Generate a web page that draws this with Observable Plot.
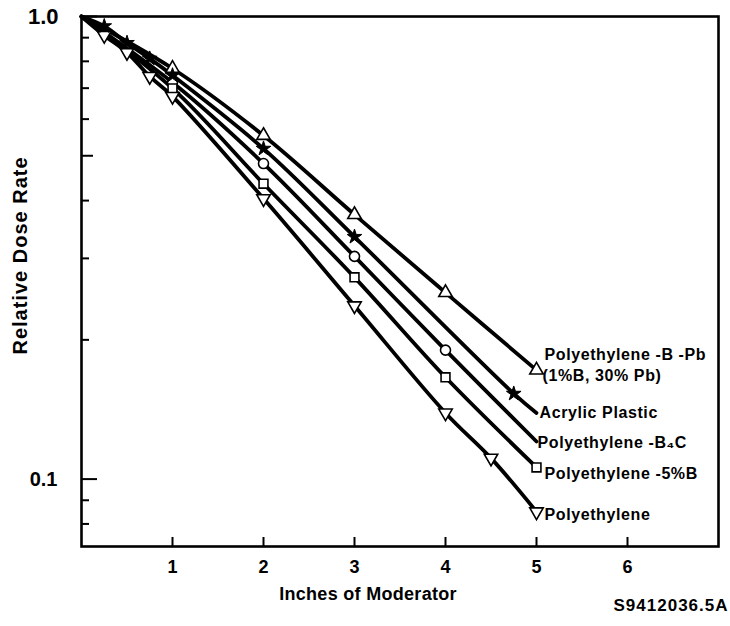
<!DOCTYPE html>
<html><head><meta charset="utf-8">
<script src="https://cdn.jsdelivr.net/npm/d3@7"></script>
<script src="https://cdn.jsdelivr.net/npm/@observablehq/plot@0.6"></script>
<style>
body{margin:0;background:#fff}
svg{display:block}
g[aria-description="curve-label"] text{letter-spacing:0.6px}
g[aria-description="fig-code"] text{letter-spacing:1px}
g[aria-description="x-title"] text{letter-spacing:0.3px}
g[aria-description="y-title"] text{letter-spacing:1px}
</style>
</head><body><div id="chart"></div>
<script>
// ---------- data ----------
const seriesNames = ["Polyethylene -B -Pb", "Acrylic Plastic", "Polyethylene -B\u2084C", "Polyethylene -5%B", "Polyethylene"];
const seriesLabels = [["Polyethylene -B -Pb", "(1%B, 30% Pb)"], ["Acrylic Plastic"], ["Polyethylene -B\u2084C"], ["Polyethylene -5%B"], ["Polyethylene"]];
const seriesSymbols = ["triangle", "star", "circle", "square", "triangle"];

const pbX      = [0, 1, 2, 3, 4, 5];
const pbY      = [1.0, 0.772, 0.553, 0.373, 0.253, 0.172];
const pbMark   = [0, 1, 1, 1, 1, 1];

const acrX     = [0, 0.25, 0.5, 0.75, 1, 2, 3, 4.75, 5];
const acrY     = [1.0, 0.953, 0.877, 0.811, 0.746, 0.518, 0.334, 0.153, 0.139];
const acrMark  = [0, 1, 1, 1, 1, 1, 1, 1, 0];

const b4cX     = [0, 1, 2, 3, 4, 5];
const b4cY     = [1.0, 0.720, 0.481, 0.303, 0.190, 0.1206];
const b4cMark  = [0, 1, 1, 1, 1, 0];

const b5X      = [0, 1, 2, 3, 4, 5];
const b5Y      = [1.0, 0.699, 0.435, 0.273, 0.166, 0.106];
const b5Mark   = [0, 1, 1, 1, 1, 1];

const peX      = [0, 0.25, 0.5, 0.75, 1, 2, 3, 4, 4.5, 5];
const peY      = [1.0, 0.910, 0.836, 0.742, 0.672, 0.404, 0.237, 0.139, 0.111, 0.085];
const peMark   = [0, 1, 1, 1, 1, 1, 1, 1, 1, 1];

const xTicks   = [1, 2, 3, 4, 5, 6];
const yMajor   = [1.0, 0.1];
const yMid     = [0.5];
const yMinor   = [0.9, 0.8, 0.7, 0.6, 0.4, 0.3, 0.2, 0.09, 0.08];
const xTitle   = "Inches of Moderator";
const yTitle   = "Relative Dose Rate";
const figCode  = "S9412036.5A";

// ---------- build table ----------
const seriesX = [pbX, acrX, b4cX, b5X, peX];
const seriesY = [pbY, acrY, b4cY, b5Y, peY];
const seriesM = [pbMark, acrMark, b4cMark, b5Mark, peMark];
const rows = [];
seriesNames.forEach((name, i) => {
  seriesX[i].forEach((x, j) => rows.push({series: name, idx: i, x, y: seriesY[i][j], mark: seriesM[i][j]}));
});
const marked = rows.filter(d => d.mark === 1);
const ends = seriesNames.map((name, i) => rows.filter(d => d.idx === i).slice(-1)[0]);

const FONT = "'Liberation Sans', Arial, Helvetica, sans-serif";
const W = 730, H = 626, ML = 81, MR = 12, MT = 16, MB = 80;
const frameW = W - ML - MR, frameH = H - MT - MB;

// label offsets (screen px) per series
const labelOffsets = [
  [{dx: 8, dy: -15}, {dx: 6, dy: 6}],
  [{dx: 3, dy: 0}],
  [{dx: 1, dy: 1}],
  [{dx: 8, dy: 6}],
  [{dx: 8, dy: 3}]
];

const labelMarks = [];
ends.forEach((e, i) => {
  seriesLabels[i].forEach((t, k) => {
    labelMarks.push(Plot.text([e], {
      x: "x", y: "y", text: () => t, textAnchor: "start",
      dx: labelOffsets[i][k].dx, dy: labelOffsets[i][k].dy,
      fontSize: 16, fontWeight: "bold", fontFamily: FONT, fill: "black",
      ariaDescription: "curve-label"
    }));
  });
});

const chart = Plot.plot({
  width: W, height: H,
  marginLeft: ML, marginRight: MR, marginTop: MT, marginBottom: MB,
  style: {fontFamily: FONT, background: "white", color: "black", overflow: "visible"},
  x: {domain: [0, 7], axis: null},
  y: {type: "log", domain: [0.0715, 1], axis: null},
  marks: [
    Plot.line(rows, {x: "x", y: "y", z: "series", stroke: "black", strokeWidth: 3.8, curve: "catmull-rom"}),
    Plot.dot(marked.filter(d => seriesSymbols[d.idx] !== "star"), {
      x: "x", y: "y", r: 5,
      symbol: d => seriesSymbols[d.idx],
      rotate: d => d.series === "Polyethylene" ? 180 : 0,
      fill: "white", stroke: "black", strokeWidth: 1.6
    }),
    Plot.dot(marked.filter(d => seriesSymbols[d.idx] === "star"), {
      x: "x", y: "y", r: 4.6, symbol: "star", fill: "black", stroke: "black", strokeWidth: 1
    }),
    ...labelMarks,
    // axes
    Plot.frame({stroke: "black", strokeWidth: 2.6}),
    Plot.tickX(xTicks, {x: d => d, insetTop: frameH - 9, stroke: "black", strokeWidth: 2}),
    Plot.tickY(yMajor, {y: d => d, insetRight: frameW - 16, stroke: "black", strokeWidth: 2}),
    Plot.tickY(yMid, {y: d => d, insetRight: frameW - 12, stroke: "black", strokeWidth: 2}),
    Plot.tickY(yMinor, {y: d => d, insetRight: frameW - 8, stroke: "black", strokeWidth: 2}),
    Plot.axisX(xTicks, {tickSize: 0, tickPadding: 14, tickFormat: d => String(d), label: null, fontSize: 18, fontWeight: "bold", fontFamily: FONT}),
    Plot.text(yMajor.filter(d => d === 1), {y: d => d, text: d => d.toFixed(1), frameAnchor: "left", textAnchor: "end", dx: -23, fontSize: 22, fontWeight: "bold", fontFamily: FONT}),
    Plot.text(yMajor.filter(d => d !== 1), {y: d => d, text: d => d.toFixed(1), frameAnchor: "left", textAnchor: "end", dx: -24, fontSize: 20, fontWeight: "bold", fontFamily: FONT}),
    Plot.text([xTitle], {text: d => d, frameAnchor: "bottom", dx: -32, dy: 53, fontSize: 18, fontWeight: "bold", fontFamily: FONT, ariaDescription: "x-title"}),
    Plot.text([yTitle], {text: d => d, frameAnchor: "left", textAnchor: "middle", rotate: -90, dx: -61, dy: -26, fontSize: 20, fontWeight: "bold", fontFamily: FONT, ariaDescription: "y-title"}),
    Plot.text([figCode], {text: d => d, frameAnchor: "bottom-right", textAnchor: "end", dx: 10, dy: 64, fontSize: 17, fontWeight: "bold", fontFamily: FONT, ariaDescription: "fig-code"})
  ]
});
document.getElementById("chart").appendChild(chart);
</script>
</body></html>
